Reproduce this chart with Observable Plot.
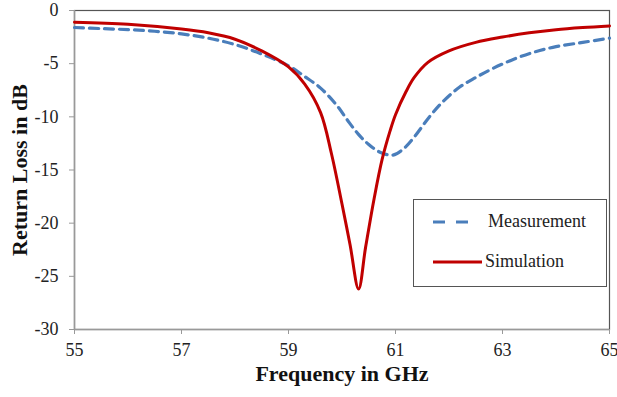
<!DOCTYPE html>
<html>
<head>
<meta charset="utf-8">
<script src="https://cdn.jsdelivr.net/npm/d3@7"></script>
<script src="https://cdn.jsdelivr.net/npm/@observablehq/plot@0.6"></script>
<style>
  html, body { margin: 0; padding: 0; background: #fff; }
  #chart { position: relative; width: 617px; height: 397px; }
  #chart svg text { font-family: "Liberation Serif", "Times New Roman", serif; }
  .legend {
    position: absolute; left: 413px; top: 199px; width: 192px; height: 86px;
    border: 1.5px solid #555; background: #fff;
    font-family: "Liberation Serif", "Times New Roman", serif; font-size: 18px; color: #222;
  }
  .legend .row { position: absolute; left: 19px; display: flex; align-items: center; }
  .legend svg { display: block; }
</style>
</head>
<body>
<div id="chart"></div>
<script>
// Frequency sweep (GHz) and return loss (dB) for the two traces
const simFreq = [55, 56, 57, 57.5, 58, 58.5, 59, 59.3, 59.6, 59.8, 60.0, 60.15, 60.31, 60.44, 60.6, 60.75, 60.9, 61.0, 61.2, 61.35, 61.6, 62.0, 62.5, 63, 63.5, 64, 64.5, 65];
const simLoss = [-1.1, -1.3, -1.75, -2.1, -2.7, -3.8, -5.3, -6.9, -9.6, -13.4, -18.2, -22.0, -26.2, -22.3, -17.7, -14.0, -11.3, -9.8, -7.6, -6.3, -4.9, -3.8, -3.0, -2.5, -2.1, -1.8, -1.6, -1.45];

const measFreq = [55, 55.5, 56, 56.5, 57, 57.5, 58, 58.5, 59, 59.3, 59.6, 59.9, 60.1, 60.3, 60.5, 60.7, 60.95, 61.15, 61.35, 61.65, 61.9, 62.2, 62.5, 62.8, 63.2, 63.6, 64, 64.5, 65];
const measLoss = [-1.6, -1.7, -1.8, -1.95, -2.2, -2.6, -3.2, -4.1, -5.2, -6.2, -7.3, -8.9, -10.3, -11.6, -12.6, -13.3, -13.6, -13.0, -11.9, -9.9, -8.5, -7.2, -6.3, -5.5, -4.6, -3.9, -3.4, -3.0, -2.6];

const xTicks = [55, 57, 59, 61, 63, 65];
const yTicks = [0, -5, -10, -15, -20, -25, -30];

const sim = simFreq.map((f, i) => ({f, db: simLoss[i]}));
const meas = measFreq.map((f, i) => ({f, db: measLoss[i]}));

const serif = '"Liberation Serif", "Times New Roman", serif';

const plot = Plot.plot({
  width: 617,
  height: 397,
  marginLeft: 74,
  marginRight: 8,
  marginTop: 10,
  marginBottom: 68,
  style: {fontFamily: serif, fontSize: "18px", color: "#222", background: "#fff"},
  x: {domain: [55, 65]},
  y: {domain: [-30, 0]},
  marks: [
    Plot.frame({stroke: "#555", strokeWidth: 1.2}),
    Plot.ruleX([55], {stroke: "#999", strokeWidth: 1.5}),
    Plot.ruleY([-30], {stroke: "#999", strokeWidth: 1.5}),
    Plot.axisY({ticks: yTicks, tickFormat: d => String(d), tickSize: 5, tickPadding: 11, stroke: "#999", fontSize: 18, label: null}),
    Plot.axisX({ticks: xTicks, tickFormat: d => String(d), tickSize: 5, tickPadding: 9, stroke: "#999", fontSize: 18, label: null}),
    Plot.text(["Return Loss in dB"], {frameAnchor: "left", textAnchor: "middle", dx: -55, rotate: -90, fontSize: 22, fontWeight: "bold", fill: "#111"}),
    Plot.text(["Frequency in GHz"], {frameAnchor: "bottom", textAnchor: "middle", dy: 51, fontSize: 22, fontWeight: "bold", fill: "#111"}),
    Plot.line(meas, {x: "f", y: "db", stroke: "#4A7EBB", strokeWidth: 3.2, strokeDasharray: "9,6", curve: "catmull-rom"}),
    Plot.line(sim, {x: "f", y: "db", stroke: "#C00000", strokeWidth: 3, curve: "catmull-rom"})
  ]
});

const chart = document.getElementById("chart");
chart.appendChild(plot);

// Legend box over the lower right of the plot area
const legend = document.createElement("div");
legend.className = "legend";
legend.innerHTML = `
  <div class="row" style="top:11px">
    <svg width="40" height="8" style="margin-right:15px"><line x1="0" y1="4" x2="40" y2="4" stroke="#4A7EBB" stroke-width="3.2" stroke-dasharray="12,11"/></svg>
    <span>Measurement</span>
  </div>
  <div class="row" style="top:51px">
    <svg width="49" height="8" style="margin-right:3px"><line x1="0" y1="4" x2="49" y2="4" stroke="#C00000" stroke-width="3"/></svg>
    <span>Simulation</span>
  </div>`;
chart.appendChild(legend);
</script>
</body>
</html>
